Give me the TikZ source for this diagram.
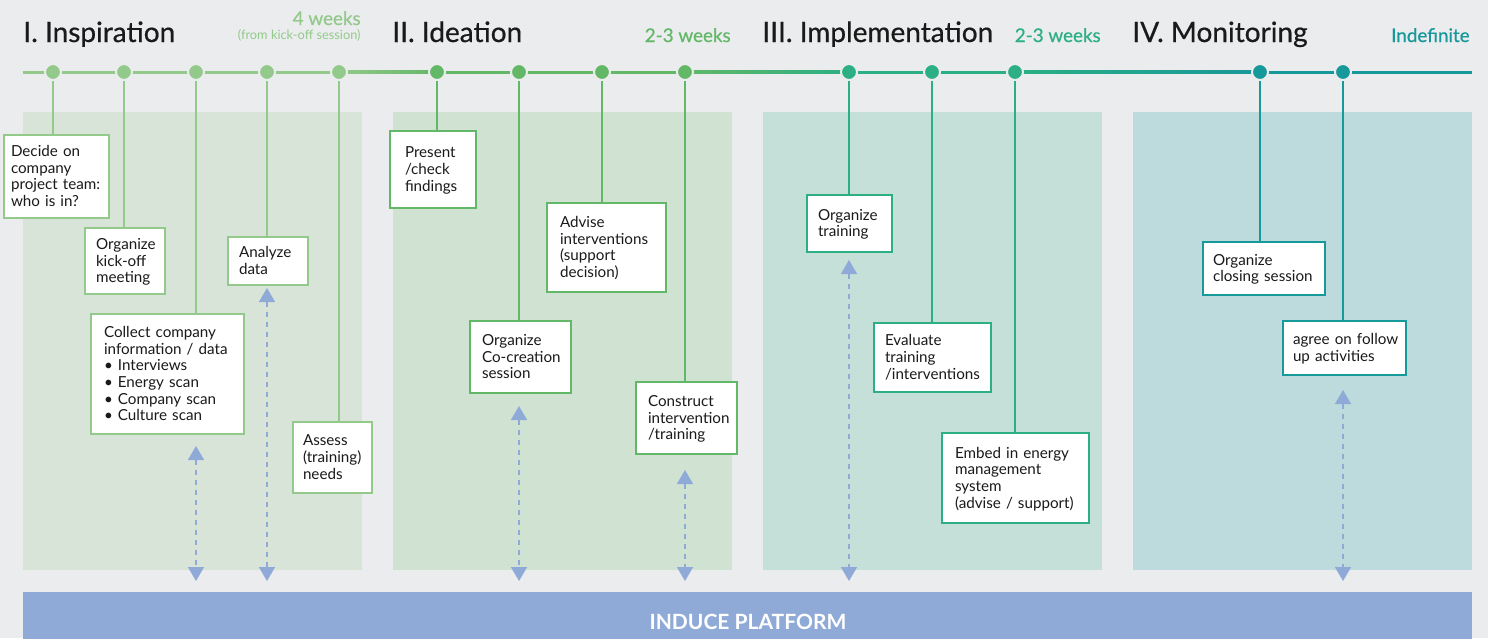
\documentclass[tikz,border=0pt]{standalone}
\usepackage{fontspec}
\setmainfont{Lato}
\newfontface\medfont[FakeBold=0.6]{Lato}
\usetikzlibrary{arrows.meta}
\definecolor{bg}{HTML}{EBECEE}
\definecolor{gA}{HTML}{93C98A}
\definecolor{gB}{HTML}{62B867}
\definecolor{gC}{HTML}{2BAF83}
\definecolor{gD}{HTML}{17989B}
\definecolor{pA}{HTML}{D9E4D9}
\definecolor{pB}{HTML}{D0E3D3}
\definecolor{pC}{HTML}{C5E0D8}
\definecolor{pD}{HTML}{BDDBDC}
\definecolor{plat}{HTML}{8FAAD6}
\definecolor{ink}{HTML}{1A1A1A}
\newlength\boxpad
\tikzset{
  tb/.style={draw=#1, fill=white, line width=1pt, align=left, inner ysep=0pt, inner xsep=0pt,
    text=ink, font=\fontsize{7.6}{8.35}\selectfont},
  dotnode/.style={circle, fill=#1, draw=bg, line width=1pt, minimum size=8pt, inner sep=0pt},
  stem/.style={draw=#1, line width=0.8pt},
  dasharrow/.style={draw=plat, line width=0.8pt, dash pattern=on 2.5pt off 2.5pt,
    {Triangle[width=8pt,length=7pt]}-{Triangle[width=8pt,length=7pt]}, shorten >=5.5pt},
  title/.style={anchor=base west, inner sep=0pt, text=ink, font=\fontsize{14}{16}\medfont},
  weeks/.style={anchor=base east, inner sep=0pt, text=#1, font=\fontsize{9.4}{10}\medfont},
}
\newcommand\tbox[8]{%
  \pgfmathsetmacro\bw{(#5-#3)*0.5}\pgfmathsetmacro\bh{(#6-#4)*0.5}%
  \pgfmathsetmacro\pd{#7*0.5}\global\boxpad=\pd pt\relax
  \node[tb=#2, anchor=north west, minimum width=\bw pt, minimum height=\bh pt,
    text width=\bw pt] (#1) at (#3,#4)
    {\hspace*{\boxpad}\raisebox{-0.9pt}[\height][\depth]{\begin{tabular}{@{}l@{}}#8\end{tabular}}};}
\begin{document}
\begin{tikzpicture}[x=0.5pt,y=-0.5pt]
\useasboundingbox (0,0) rectangle (1488,638);
\fill[bg] (0,0) rectangle (1488,638);
% panels
\fill[pA] (23,112) rectangle (362,570);
\fill[pB] (393,112) rectangle (732,570);
\fill[pC] (763,112) rectangle (1102,570);
\fill[pD] (1133,112) rectangle (1472,570);
% platform
\node[fill=plat, anchor=north west, minimum width=724.5pt, minimum height=29pt, inner sep=0pt,
  text=white, font=\fontsize{10.5}{12}\selectfont\bfseries] (platform) at (23,592) {INDUCE PLATFORM};
% titles
\node[title] (t1) at (23,42) {I. Inspiration};
\node[title] (t2) at (392,42) {II. Ideation};
\node[title] (t3) at (762,42) {III. Implementation};
\node[title] (t4) at (1132,42) {IV. Monitoring};
\node[weeks=gA] (w1) at (361,25) {4 weeks};
\node[anchor=base east, inner sep=0pt, text=gA, font=\fontsize{6.4}{7}\selectfont] (w1b) at (361,39) {(from kick-off session)};
\node[weeks=gB] (w2) at (731,42) {2-3 weeks};
\node[weeks=gC] (w3) at (1101,42) {2-3 weeks};
\node[weeks=gD] (w4) at (1470,42) {Indefinite};
% timeline
\fill[gA] (23,70.5) rectangle (339,73.5);
\shade[left color=gA, right color=gB] (339,70.5) rectangle (437,73.5);
\fill[gB] (437,70.5) rectangle (685,73.5);
\shade[left color=gB, right color=gC] (685,70.5) rectangle (849,73.5);
\fill[gC] (849,70.5) rectangle (1015,73.5);
\shade[left color=gC, right color=gD] (1015,70.5) rectangle (1260,73.5);
\fill[gD] (1260,70.5) rectangle (1472,73.5);
% boxes
\tbox{b1}{gA}{3}{134}{108}{217}{7}{Decide on\\company\\project team:\\who is in?}
\tbox{b2}{gA}{84}{227}{164}{293}{11}{Organize\\kick-off\\meeting}
\tbox{b3}{gA}{90}{313}{243}{433}{13}{Collect company\\information / data\\• Interviews\\• Energy scan\\• Company scan\\• Culture scan}
\tbox{b4}{gA}{227}{236}{307}{284}{11}{Analyze\\data}
\tbox{b5}{gA}{292}{421}{371}{492}{10}{Assess\\(training)\\needs}
\tbox{b6}{gB}{389}{130}{475}{207}{15}{Present\\/check\\findings}
\tbox{b7}{gB}{469}{320}{570}{392}{12}{Organize\\Co-creation\\session}
\tbox{b8}{gB}{546}{202}{665}{291}{13}{Advise\\interventions\\(support\\decision)}
\tbox{b9}{gB}{635}{381}{736}{453}{12}{Construct\\intervention\\/training}
\tbox{b10}{gC}{806}{194}{891}{251}{11}{Organize\\training}
\tbox{b11}{gC}{873}{322}{990}{391}{11}{Evaluate\\training\\/interventions}
\tbox{b12}{gC}{941}{432}{1088}{522}{13}{Embed in energy\\management\\system\\(advise / support)}
\tbox{b13}{gD}{1202}{241}{1324}{294}{10}{Organize\\closing session}
\tbox{b14}{gD}{1282}{320}{1405}{374}{10}{agree on follow\\up activities}
% dots
\node[dotnode=gA] (d1) at (53,72) {};
\node[dotnode=gA] (d2) at (124,72) {};
\node[dotnode=gA] (d3) at (196,72) {};
\node[dotnode=gA] (d4) at (267,72) {};
\node[dotnode=gA] (d5) at (339,72) {};
\node[dotnode=gB] (d6) at (437,72) {};
\node[dotnode=gB] (d7) at (519,72) {};
\node[dotnode=gB] (d8) at (602,72) {};
\node[dotnode=gB] (d9) at (685,72) {};
\node[dotnode=gC] (d10) at (849,72) {};
\node[dotnode=gC] (d11) at (932,72) {};
\node[dotnode=gC] (d12) at (1015,72) {};
\node[dotnode=gD] (d13) at (1260,72) {};
\node[dotnode=gD] (d14) at (1343,72) {};
% stems
\foreach \i/\c in {1/gA,2/gA,3/gA,4/gA,5/gA,6/gB,7/gB,8/gB,9/gB,10/gC,11/gC,12/gC,13/gD,14/gD}
  \draw[stem=\c] (d\i.south) -- (d\i.south |- b\i.north);
% dashed arrows to platform
\coordinate (a1) at (196,446);
\coordinate (a2) at (267,288);
\coordinate (a3) at (519,406);
\coordinate (a4) at (685,470);
\coordinate (a5) at (849,260);
\coordinate (a6) at (1343,390);
\foreach \a in {a1,a2,a3,a4,a5,a6}
  \draw[dasharrow] (\a) -- (\a |- platform.north);
\end{tikzpicture}
\end{document}
